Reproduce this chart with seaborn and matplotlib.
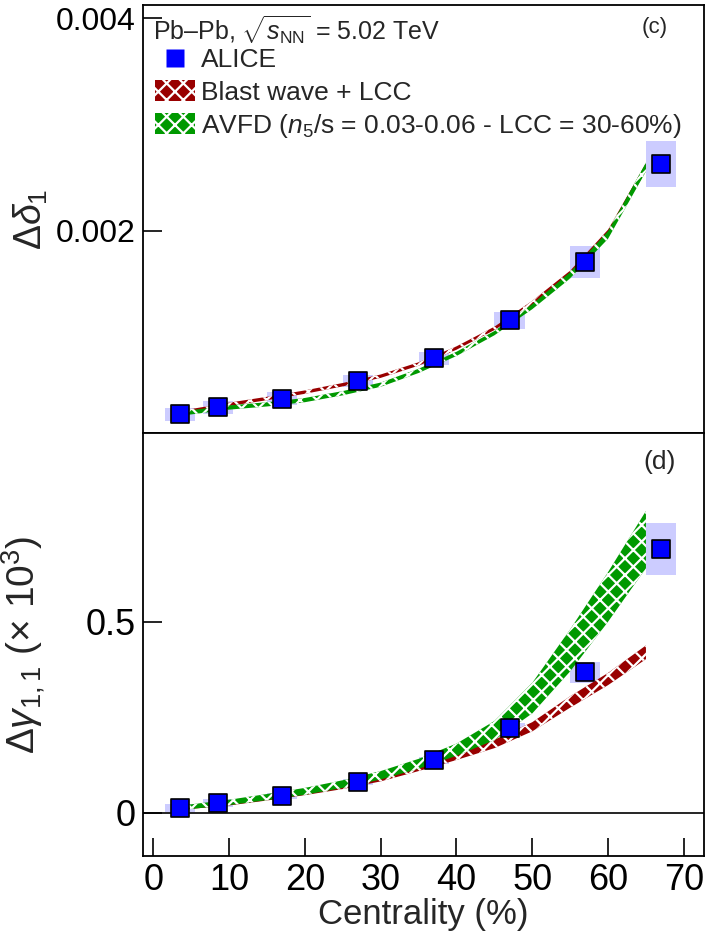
import numpy as np
import pandas as pd
import matplotlib
matplotlib.use("Agg")
import matplotlib.pyplot as plt
import seaborn as sns
from matplotlib.patches import Rectangle, Patch
from matplotlib.lines import Line2D

# ALICE measurements vs centrality
centrality = [3.5, 8.5, 17, 27, 37, 47, 57, 67]
delta1 = [0.000271, 0.000337, 0.000418, 0.000585, 0.000799, 0.001156, 0.001705, 0.002628]
delta1_sys = [6e-5, 6e-5, 6e-5, 6e-5, 6e-5, 8e-5, 1.5e-4, 2.2e-4]
gamma11 = [0.012, 0.025, 0.043, 0.081, 0.137, 0.222, 0.368, 0.690]
gamma11_sys = [0.010, 0.010, 0.008, 0.008, 0.010, 0.013, 0.0275, 0.069]
sys_halfwidth = 2.0

# Model bands (centre and half-width) vs centrality
model_cent = [3.5, 5, 10, 15, 20, 25, 30, 35, 40, 45, 50, 55, 60, 65]
bw_delta = [0.000285, 0.000305, 0.000365, 0.000420, 0.000480, 0.000550, 0.000630,
            0.000745, 0.000895, 0.001080, 0.001320, 0.001600, 0.001980, 0.002600]
bw_delta_hw = [1.6e-5] * 10 + [2e-5, 2.4e-5, 3e-5, 3.6e-5]
avfd_delta = [0.000280, 0.000290, 0.000335, 0.000365, 0.000405, 0.000470, 0.000550,
              0.000680, 0.000840, 0.001035, 0.001285, 0.001580, 0.001960, 0.002600]
avfd_delta_hw = [2e-5] * 10 + [2.4e-5, 3e-5, 3.6e-5, 4.2e-5]
bw_gamma = [0.012, 0.015, 0.025, 0.038, 0.053, 0.070, 0.090, 0.118, 0.148,
            0.180, 0.225, 0.290, 0.350, 0.420]
bw_gamma_hw = [0.005, 0.005, 0.006, 0.006, 0.007, 0.008, 0.008, 0.009, 0.010,
               0.011, 0.012, 0.015, 0.016, 0.018]
avfd_gamma = [0.013, 0.016, 0.027, 0.041, 0.056, 0.075, 0.098, 0.128, 0.165,
              0.215, 0.300, 0.425, 0.565, 0.715]
avfd_gamma_hw = [0.006, 0.006, 0.007, 0.008, 0.009, 0.010, 0.011, 0.013, 0.016,
                 0.025, 0.040, 0.055, 0.065, 0.075]

x_ticks = [0, 10, 20, 30, 40, 50, 60, 70]
delta_ticks = [0.002, 0.004]
delta_ticklabels = ["0.002", "0.004"]
gamma_ticks = [0, 0.5]
gamma_ticklabels = ["0", "0.5"]

BLUE = "#0000ff"
SYS = "#ccccff"
GREEN = "#009900"
RED = "#990000"

sns.set_theme(style="ticks")
plt.rcParams["font.family"] = ["Liberation Sans", "DejaVu Sans"]
plt.rcParams["mathtext.fontset"] = "custom"
plt.rcParams["mathtext.rm"] = "Liberation Sans"
plt.rcParams["mathtext.it"] = "Liberation Sans:italic"
plt.rcParams["mathtext.bf"] = "Liberation Sans:bold"
plt.rcParams["hatch.linewidth"] = 1.6

data = pd.DataFrame({"cent": centrality, "delta1": delta1, "gamma11": gamma11,
                     "delta1_sys": delta1_sys, "gamma11_sys": gamma11_sys})
models = pd.DataFrame({"cent": model_cent,
                       "bw_d": bw_delta, "bw_d_hw": bw_delta_hw,
                       "av_d": avfd_delta, "av_d_hw": avfd_delta_hw,
                       "bw_g": bw_gamma, "bw_g_hw": bw_gamma_hw,
                       "av_g": avfd_gamma, "av_g_hw": avfd_gamma_hw})

fig = plt.figure(figsize=(7.08, 9.34), dpi=100)
ax1 = fig.add_axes([0.2016, 0.5364, 0.7932, 0.4582])
ax2 = fig.add_axes([0.2016, 0.0838, 0.7932, 0.4526])


def draw_panel(ax, ycol, syscol, bw, bw_hw, av, av_hw):
    for col, hw, color, z in [(bw, bw_hw, RED, 2), (av, av_hw, GREEN, 3)]:
        ax.fill_between(models["cent"], models[col] - models[hw], models[col] + models[hw],
                        facecolor=color, edgecolor="white", hatch="xx",
                        linewidth=0, zorder=z)
    for _, r in data.iterrows():
        ax.add_patch(Rectangle((r["cent"] - sys_halfwidth, r[ycol] - r[syscol]),
                               2 * sys_halfwidth, 2 * r[syscol],
                               facecolor=SYS, edgecolor="none", zorder=1))
    sns.scatterplot(data=data, x="cent", y=ycol, ax=ax, marker="s", s=180,
                    color=BLUE, edgecolor="black", linewidth=1.2, zorder=5,
                    legend=False)
    ax.set_xlim(-1.4, 72.7)
    ax.set_xlabel("")
    ax.set_ylabel("")
    for sp in ax.spines.values():
        sp.set_visible(True)
        sp.set_linewidth(1.3)
        sp.set_color("black")


draw_panel(ax1, "delta1", "delta1_sys", "bw_d", "bw_d_hw", "av_d", "av_d_hw")
draw_panel(ax2, "gamma11", "gamma11_sys", "bw_g", "bw_g_hw", "av_g", "av_g_hw")

# Top panel axes
ax1.set_ylim(0.000095, 0.004125)
ax1.set_yticks(delta_ticks)
ax1.set_yticklabels(delta_ticklabels)
ax1.set_xticks([])
ax1.tick_params(axis="y", direction="in", length=14, width=1.2, pad=5,
                labelsize=23, colors="black")
ax1.set_ylabel(r"$\Delta\delta_1$", fontsize=27, labelpad=2)
ax1.yaxis.set_label_coords(-0.165, 0.5)

# Bottom panel axes
ax2.axhline(0, color="black", linewidth=1.2, zorder=0.5)
ax2.set_ylim(-0.1126, 0.994)
ax2.set_yticks(gamma_ticks)
ax2.set_yticklabels(gamma_ticklabels)
ax2.set_xticks(x_ticks)
ax2.set_xticklabels([str(t) for t in x_ticks])
ax2.tick_params(axis="both", direction="in", length=14, width=1.2, pad=5,
                labelsize=26, colors="black")
ax2.tick_params(axis="x", length=13, pad=5)
ax2.set_xlabel("Centrality (%)", fontsize=25, labelpad=0)
ax2.set_ylabel(r"$\Delta\gamma_{1,1}$ $(\times\ 10^{3})$", fontsize=28)
ax2.yaxis.set_label_coords(-0.17, 0.5)

# Panel tags
ax1.text(0.912, 0.947, "(c)", transform=ax1.transAxes, fontsize=16,
         ha="center", va="center")
ax2.text(0.921, 0.931, "(d)", transform=ax2.transAxes, fontsize=19,
         ha="center", va="center")

# Legend
ax1.text(0.018, 0.9416, r"Pb–Pb, $\sqrt{s_{\rm NN}}$ = 5.02 TeV", transform=ax1.transAxes,
         fontsize=18, ha="left", va="center")
handles = [
    Line2D([], [], marker="s", linestyle="none", markersize=13.5,
           markerfacecolor=BLUE, markeredgecolor="none"),
    Patch(facecolor=RED, edgecolor="white", hatch="xx", linewidth=0),
    Patch(facecolor=GREEN, edgecolor="white", hatch="xx", linewidth=0),
]
labels = ["ALICE", "Blast wave + LCC",
          r"AVFD ($n_5$/s = 0.03-0.06 - LCC = 30-60%)"]
ax1.legend(handles, labels, loc="upper left", bbox_to_anchor=(0.021, 0.900),
           frameon=False, fontsize=19, handlelength=1.55, handleheight=0.85,
           handletextpad=0.2, labelspacing=0.28, borderaxespad=0, borderpad=0)

fig.savefig("out.png", dpi=100)
